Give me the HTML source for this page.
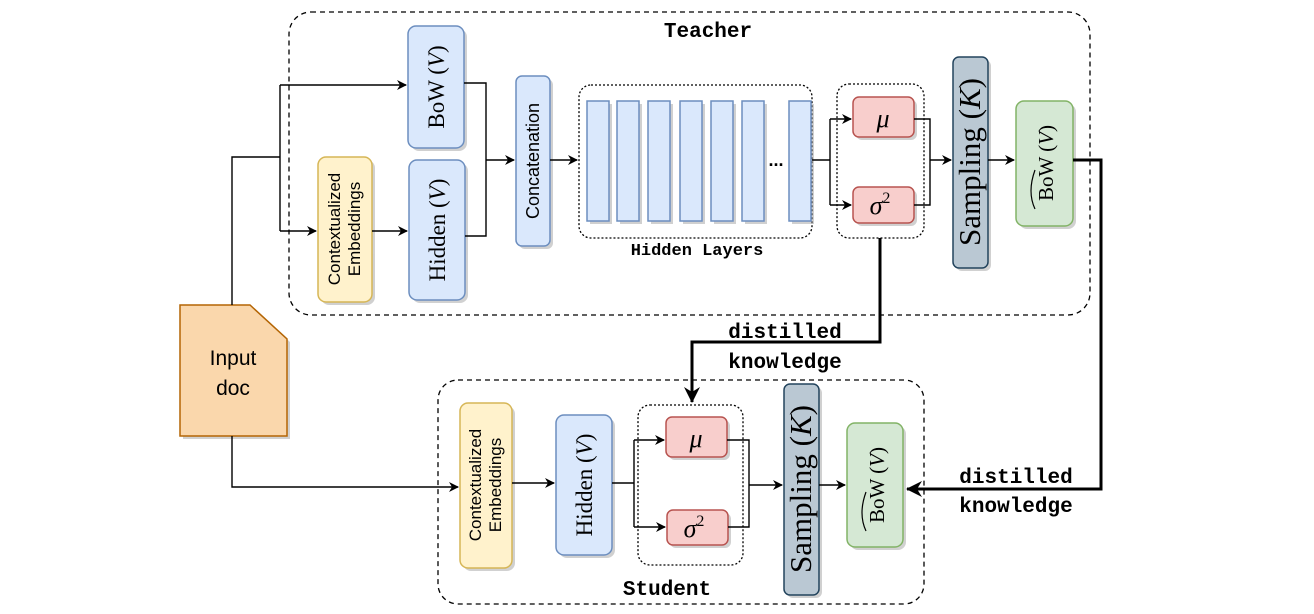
<!DOCTYPE html>
<html><head><meta charset="utf-8"><style>
body{margin:0;background:#fff}
svg{display:block}
.mono{font-family:"Liberation Mono",monospace;font-weight:bold;font-size:21px}
.serif{font-family:"Liberation Serif",serif}
.sans{font-family:"Liberation Sans",sans-serif}
</style></head><body>
<svg width="1314" height="614" viewBox="0 0 1314 614" xmlns="http://www.w3.org/2000/svg">
<defs>
<marker id="a" markerWidth="10" markerHeight="10" refX="9" refY="5" orient="auto" markerUnits="userSpaceOnUse"><path d="M0,0 L10,5 L0,10 L3,5 z" fill="#000"/></marker>
<marker id="b" markerWidth="16" markerHeight="16" refX="15" refY="8" orient="auto" markerUnits="userSpaceOnUse"><path d="M0,0 L16,8 L0,16 L5,8 z" fill="#000"/></marker>
</defs>
<g fill="none" stroke="#000" stroke-width="1.3">
<rect x="289" y="12" width="801" height="303" rx="22" stroke-dasharray="5,4"/>
<rect x="438" y="380" width="486" height="224" rx="20" stroke-dasharray="5,4"/>
<rect x="579" y="85" width="233" height="153" rx="12" stroke-dasharray="2,2"/>
<rect x="837" y="84" width="87" height="154" rx="12" stroke-dasharray="2,2"/>
<rect x="638" y="405" width="105" height="160" rx="12" stroke-dasharray="2,2"/>
</g>
<g fill="#999" opacity="0.45">
<rect x="411" y="29" width="56" height="122" rx="8"/><rect x="412" y="163" width="56" height="140" rx="8"/>
<rect x="321" y="160" width="54" height="145" rx="8"/><rect x="519" y="79" width="34" height="170" rx="6"/>
<rect x="956" y="60" width="35" height="211" rx="6"/><rect x="1019" y="104" width="57" height="125" rx="8"/>
<rect x="463" y="406" width="52" height="165" rx="8"/><rect x="559" y="418" width="56" height="140" rx="8"/>
<rect x="787" y="387" width="35" height="211" rx="6"/><rect x="850" y="426" width="56" height="124" rx="8"/>
<rect x="856" y="100" width="61" height="40" rx="6"/><rect x="856" y="190" width="61" height="36" rx="6"/>
<rect x="669" y="420" width="61" height="40" rx="6"/><rect x="670" y="513" width="61" height="35" rx="6"/>
<path d="M183,308 H253 L290,342 V439 H183 z"/>
<g><rect x="590" y="104" width="22" height="120"/><rect x="620" y="104" width="22" height="120"/><rect x="651" y="104" width="22" height="120"/><rect x="683" y="104" width="22" height="120"/><rect x="714" y="104" width="22" height="120"/><rect x="745" y="104" width="22" height="120"/><rect x="792" y="104" width="22" height="120"/></g>
</g>
<g stroke-width="1.5">
<rect x="408" y="26" width="56" height="122" rx="8" fill="#dae8fc" stroke="#6c8ebf"/>
<rect x="409" y="160" width="56" height="140" rx="8" fill="#dae8fc" stroke="#6c8ebf"/>
<rect x="318" y="157" width="54" height="145" rx="8" fill="#fff2cc" stroke="#d6b656"/>
<rect x="516" y="76" width="34" height="170" rx="6" fill="#dae8fc" stroke="#6c8ebf"/>
<g fill="#dae8fc" stroke="#6c8ebf"><rect x="587" y="101" width="22" height="120"/><rect x="617" y="101" width="22" height="120"/><rect x="648" y="101" width="22" height="120"/><rect x="680" y="101" width="22" height="120"/><rect x="711" y="101" width="22" height="120"/><rect x="742" y="101" width="22" height="120"/><rect x="789" y="101" width="22" height="120"/></g>
<rect x="853" y="97" width="61" height="40" rx="6" fill="#f8cecc" stroke="#b85450"/>
<rect x="853" y="187" width="61" height="36" rx="6" fill="#f8cecc" stroke="#b85450"/>
<rect x="953" y="57" width="35" height="211" rx="6" fill="#bac8d3" stroke="#23445d"/>
<rect x="1016" y="101" width="57" height="125" rx="8" fill="#d5e8d4" stroke="#82b366"/>
<rect x="460" y="403" width="52" height="165" rx="8" fill="#fff2cc" stroke="#d6b656"/>
<rect x="556" y="415" width="56" height="140" rx="8" fill="#dae8fc" stroke="#6c8ebf"/>
<rect x="666" y="417" width="61" height="40" rx="6" fill="#f8cecc" stroke="#b85450"/>
<rect x="667" y="510" width="61" height="35" rx="6" fill="#f8cecc" stroke="#b85450"/>
<rect x="784" y="384" width="35" height="211" rx="6" fill="#bac8d3" stroke="#23445d"/>
<rect x="847" y="423" width="56" height="124" rx="8" fill="#d5e8d4" stroke="#82b366"/>
<path d="M180,305 H250 L287,339 V436 H180 z" fill="#fad7ac" stroke="#b46504"/>
</g>
<g fill="none" stroke="#000" stroke-width="1.4">
<path d="M232,305 V157 H280"/>
<path d="M280,85 V231"/>
<path d="M280,85 H406" marker-end="url(#a)"/>
<path d="M280,231 H316" marker-end="url(#a)"/>
<path d="M372,231 H407" marker-end="url(#a)"/>
<path d="M464,83 H486 V236 H465"/>
<path d="M486,160 H514" marker-end="url(#a)"/>
<path d="M550,160 H577" marker-end="url(#a)"/>
<path d="M812,160 H830 M830,119 V205"/>
<path d="M830,119 H851" marker-end="url(#a)"/>
<path d="M830,205 H851" marker-end="url(#a)"/>
<path d="M914,119 H930 V205 H914"/>
<path d="M930,160 H951" marker-end="url(#a)"/>
<path d="M988,160 H1014" marker-end="url(#a)"/>
<path d="M232,436 V487 H458" marker-end="url(#a)"/>
<path d="M512,483 H554" marker-end="url(#a)"/>
<path d="M612,483 H634 M634,440 V527"/>
<path d="M634,440 H664" marker-end="url(#a)"/>
<path d="M634,527 H665" marker-end="url(#a)"/>
<path d="M727,440 H749 V527 H728"/>
<path d="M749,485 H782" marker-end="url(#a)"/>
<path d="M819,485 H845" marker-end="url(#a)"/>
</g>
<g fill="none" stroke="#000" stroke-width="3">
<path d="M1073,160 H1101 V489 H907" marker-end="url(#b)"/>
<path d="M880,238 V342 H692 V402" marker-end="url(#b)"/>
</g>
<g class="mono" text-anchor="middle">
<text x="708" y="37">Teacher</text>
<text x="667" y="595">Student</text>
<text x="785" y="338">distilled</text>
<text x="785" y="368">knowledge</text>
<text x="1016" y="483">distilled</text>
<text x="1016" y="512">knowledge</text>
<text x="697" y="255" style="font-size:17px">Hidden Layers</text>
</g>
<text x="776" y="166" class="sans" font-size="18" font-weight="bold" text-anchor="middle">...</text>
<text x="233" y="365" class="sans" font-size="21" text-anchor="middle">Input</text>
<text x="233" y="395" class="sans" font-size="21" text-anchor="middle">doc</text>
<g class="serif" font-size="23" text-anchor="middle">
<text transform="translate(444,87) rotate(-90)">BoW (<tspan font-style="italic">V</tspan>)</text>
<text transform="translate(445,230) rotate(-90)">Hidden (<tspan font-style="italic">V</tspan>)</text>
<text transform="translate(592,485) rotate(-90)">Hidden (<tspan font-style="italic">V</tspan>)</text>
<text transform="translate(980,162) rotate(-90)" font-size="31">Sampling (<tspan font-style="italic">K</tspan>)</text>
<text transform="translate(811,489) rotate(-90)" font-size="31">Sampling (<tspan font-style="italic">K</tspan>)</text>
<text transform="translate(1053,163) rotate(-90)" font-size="21">BoW (<tspan font-style="italic">V</tspan>)</text>
<text transform="translate(884,485) rotate(-90)" font-size="21">BoW (<tspan font-style="italic">V</tspan>)</text>
<text x="883" y="127" font-size="26" font-style="italic">μ</text>
<text x="880" y="214" font-size="26" font-style="italic">σ<tspan font-size="16" dy="-11" font-style="normal">2</tspan></text>
<text x="696" y="447" font-size="26" font-style="italic">μ</text>
<text x="694" y="537" font-size="26" font-style="italic">σ<tspan font-size="16" dy="-11" font-style="normal">2</tspan></text>
</g>
<g fill="none" stroke="#000" stroke-width="1.2">
<path d="M1035,209 Q1027,192 1035,170"/>
<path d="M866,531 Q858,514 866,492"/>
</g>
<g class="sans" font-size="17" text-anchor="middle">
<text transform="translate(340,229) rotate(-90)">Contextualized</text>
<text transform="translate(360,229) rotate(-90)">Embeddings</text>
<text transform="translate(481,485) rotate(-90)">Contextualized</text>
<text transform="translate(501,485) rotate(-90)">Embeddings</text>
<text transform="translate(539,161) rotate(-90)" font-size="18">Concatenation</text>
</g>
</svg>
</body></html>
